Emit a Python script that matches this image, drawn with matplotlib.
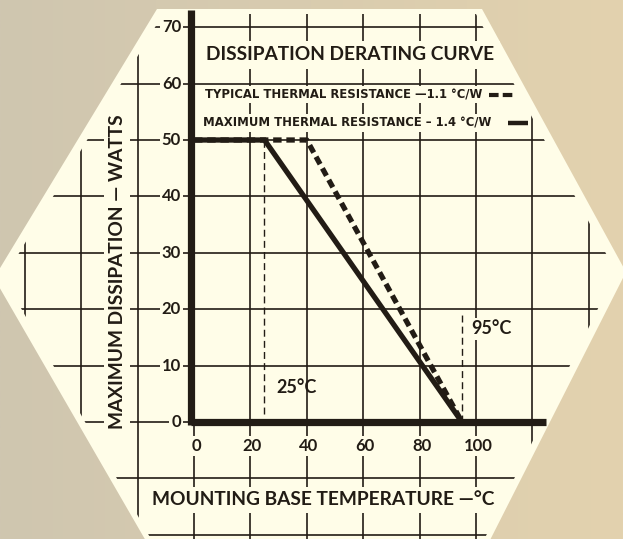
import numpy as np
import matplotlib.pyplot as plt
from matplotlib.colors import to_rgb
from matplotlib.patches import Polygon

# derating curves: case temperature (deg C) vs allowed dissipation (W)
temp_typical = [0, 40, 95]
watts_typical = [50, 50, 0]
temp_maximum = [0, 25, 95]
watts_maximum = [50, 50, 0]

knee_temps = [25, 95]
knee_labels = ["25°C", "95°C"]
x_ticks = [0, 20, 40, 60, 80, 100]
y_ticks = [0, 10, 20, 30, 40, 50, 60, 70]

INK = '#221c15'
PAPER = '#fffde8'
BACK_LEFT = '#cfc6b0'
BACK_RIGHT = '#e3d2ae'
FONT = 'Lato'
WIDE = 'DejaVu Sans'

W, H = 623, 539
X0, Y0 = 194.0, 422.0          # pixel position of the origin
SX, SY = 2.82, 5.64            # pixels per unit


def px(x, y):
    """pixel (from top-left) -> data coordinates"""
    return (x - X0) / SX, (Y0 - y) / SY


fig = plt.figure(figsize=(W / 100, H / 100), dpi=100)
ax = fig.add_axes([0, 0, 1, 1])
x_lo, x_hi = px(0, 0)[0], px(W, 0)[0]
y_lo, y_hi = px(0, H)[1], px(0, 0)[1]
ax.set_xlim(x_lo, x_hi)
ax.set_ylim(y_lo, y_hi)
ax.axis('off')

# paper backdrop, grey on the left warming to tan on the right
t = np.linspace(0, 1, 256)[None, :, None]
grad = (1 - t) * np.array(to_rgb(BACK_LEFT)) + t * np.array(to_rgb(BACK_RIGHT))
ax.imshow(grad, extent=[x_lo, x_hi, y_lo, y_hi], aspect='auto', zorder=-1)

# hexagonal paper sheet
hex_px = [(157, 9), (482, 9), (626, 272), (486, 548), (150, 548), (-6, 278)]
sheet = Polygon([px(*p) for p in hex_px], closed=True, facecolor=PAPER,
                edgecolor='none', zorder=0)
ax.add_patch(sheet)

inset_px = [(163, 14), (476, 14), (616, 272), (480, 548), (156, 548), (4, 278)]
clip = Polygon([px(*p) for p in inset_px], closed=True, transform=ax.transData)

# grid
for gx in range(-60, 160, 20):
    ln, = ax.plot([gx, gx], [-25, 80], color=INK, lw=1.2, zorder=1)
    ln.set_clip_path(clip)
for gy in range(-20, 80, 10):
    ln, = ax.plot([-80, 160], [gy, gy], color=INK, lw=1.2, zorder=1)
    ln.set_clip_path(clip)

# heavy axes
ax.plot([-1.2, 125], [0, 0], color=INK, lw=5.2, solid_capstyle='butt', zorder=4)
ax.plot([-1.2, -1.2], [-0.6, 73], color=INK, lw=5.2, solid_capstyle='butt', zorder=4)

# knee markers
ax.plot([knee_temps[0]] * 2, [1.5, 50], color=INK, lw=1.0, ls=(0, (5, 3)), zorder=2)
ax.plot([knee_temps[1]] * 2, [0, 19], color=INK, lw=1.0, ls=(0, (5, 3)), zorder=2)

# curves
ax.plot(temp_maximum, watts_maximum, color=INK, lw=3.8,
        solid_capstyle='butt', solid_joinstyle='miter', zorder=3)
ax.plot(temp_typical, watts_typical, color=INK, lw=3.8, ls=(0, (1.6, 0.9)),
        dash_capstyle='butt', zorder=3)

box = dict(facecolor=PAPER, edgecolor='none', pad=1.5)

# tick labels
for v in y_ticks:
    ax.text(-4.6, v, str(v), ha='right', va='center', fontsize=12,
            fontweight='bold', family=FONT, color=INK, bbox=box, zorder=5)
for v in x_ticks:
    ax.text(v + 0.7, -2.9, str(v), ha='center', va='top', fontsize=12,
            fontweight='bold', family=FONT, color=INK, bbox=box, zorder=5)

# title and legend rows
ax.text(55.3, 65.1, "DISSIPATION DERATING CURVE", ha='center', va='center',
        fontsize=13.8, fontweight='bold', family=FONT, color=INK,
        bbox=dict(facecolor=PAPER, edgecolor='none', pad=4), zorder=5)
ax.text(3.9, 58.0, "TYPICAL THERMAL RESISTANCE —1.1 °C/W", ha='left',
        va='center', fontsize=8.4, fontweight='bold', family=WIDE, color=INK,
        bbox=box, zorder=5)
ax.text(3.2, 53.0, "MAXIMUM THERMAL RESISTANCE – 1.4 °C/W", ha='left',
        va='center', fontsize=8.4, fontweight='bold', family=WIDE, color=INK,
        bbox=box, zorder=5)
ax.plot([104.5, 113.5], [58.0, 58.0], color=INK, lw=3.0, ls=(0, (2.3, 1.0)),
        dash_capstyle='butt', zorder=6)
ax.plot([111.5, 118.5], [53.0, 53.0], color=INK, lw=3.2,
        solid_capstyle='butt', zorder=6)

# knee labels
ax.text(29.2, 6.2, knee_labels[0], ha='left', va='center', fontsize=13,
        fontweight='bold', family=FONT, color=INK, zorder=5)
ax.text(98.3, 16.5, knee_labels[1], ha='left', va='center', fontsize=13,
        fontweight='bold', family=FONT, color=INK, bbox=box, zorder=5)

# axis titles
ax.text(-27.3, 26.6, "MAXIMUM DISSIPATION — WATTS", rotation=90, ha='center',
        va='center', fontsize=13.8, fontweight='bold', family=FONT, color=INK,
        bbox=dict(facecolor=PAPER, edgecolor='none', pad=3), zorder=5)
ax.text(45.7, -13.8, "MOUNTING BASE TEMPERATURE —°C", ha='center', va='center',
        fontsize=13.8, fontweight='bold', family=FONT, color=INK,
        bbox=dict(facecolor=PAPER, edgecolor='none', pad=3), zorder=5)

fig.savefig('out.png', dpi=100)
